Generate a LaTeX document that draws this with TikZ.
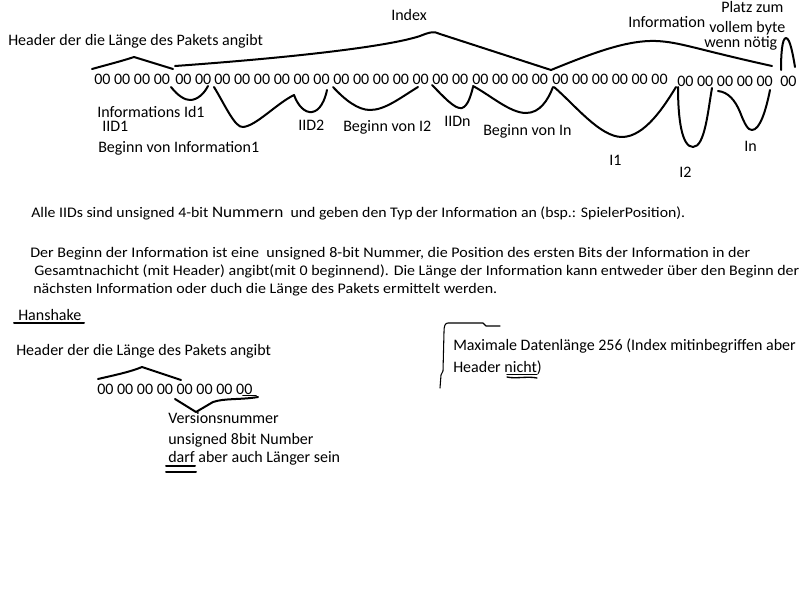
\documentclass[tikz,border=0pt]{standalone}
\usepackage{fontspec}
\setmainfont{Carlito}
\usepackage{graphicx}
\begin{document}
\begin{tikzpicture}[x=0.75pt,y=-0.75pt, line cap=round, line join=round,
  lbl/.style={anchor=base west, inner sep=0pt, font=\fontsize{12}{14}\selectfont},
  paratext/.style={anchor=base west, inner sep=0pt, font=\fontsize{11}{13}\selectfont},
  pen/.style={draw=black, line width=1.5pt},
  thinpen/.style={draw=black, line width=0.8pt}]
\useasboundingbox[fill=white] (0,0) rectangle (800,600);

% ---------- top packet ----------
\node[lbl] (hdr) at (8,45) {Header der die Länge des Pakets angibt};
\node[lbl] (idx) at (391,20) {Index};
\node[lbl] (info) at (628,27) {Information};
\node[lbl] (pl1) at (721,12) {Platz zum};
\node[lbl] (pl2) at (709,32) {vollem byte};
\node[lbl] (pl3) at (704,47) {wenn nötig};

\node[lbl] (g1) at (94,84) {00 00 00 00};
\node[lbl] (g2) at (175,84) {00 00};
\node[lbl] (g3) at (214,84) {00 00 00 00 00 00};
\node[lbl] (g4) at (333,84) {00 00 00 00 00};
\node[lbl] (g5) at (432,84) {00 00};
\node[lbl] (g6) at (472,84) {00 00 00 00};
\node[lbl] (g7) at (552,84) {00 00 00 00 00 00};
\node[lbl] (g8) at (677,86) {00 00 00 00 00};
\node[lbl] (g9) at (780,86) {00};

\node[lbl] (l1) at (97,117) {Informations Id1};
\node[lbl] (l2) at (102,131) {IID1};
\node[lbl] (l3) at (98,152) {Beginn von Information1};
\node[lbl] (l4) at (298,130) {IID2};
\node[lbl] (l5) at (343,131) {Beginn von I2};
\node[lbl] (l6) at (444,126) {IIDn};
\node[lbl] (l7) at (483,135) {Beginn von In};
\node[lbl] (l8) at (609,165) {I1};
\node[lbl] (l9) at (679,177) {I2};
\node[lbl] (l10) at (744,151) {In};

% braces above
\draw[pen] (92,69) .. controls (110,64) and (122,61) .. (134,57) -- (173,69);
\draw[pen] (175,66) .. controls (300,57) and (390,46) .. (420,36)
  .. controls (430,32) and (434,31) .. (440,34) -- (551,70);
\draw[pen] (551,70) .. controls (595,52) and (628,40) .. (656,41)
  .. controls (680,42) and (695,49) .. (772,66);
\draw[pen] (781,70) .. controls (781,55) and (782,38) .. (786,38)
  .. controls (790,38) and (793,55) .. (795,67);

% braces below
\draw[pen] (171,87) .. controls (178,96) and (185,100) .. (190,100)
  .. controls (197,100) and (204,94) .. (208,86);
\draw[pen] (214,87) .. controls (225,105) and (235,128) .. (243,127)
  .. controls (256,126) and (276,104) .. (294,95)
  .. controls (298,106) and (305,113) .. (312,112)
  .. controls (320,111) and (325,100) .. (327,90);
\draw[pen] (333,87) .. controls (345,100) and (358,110) .. (370,110)
  .. controls (385,110) and (400,98) .. (418,87);
\draw[pen] (432,85) .. controls (442,95) and (455,110) .. (462,108)
  .. controls (468,106) and (471,95) .. (473,87);
\draw[pen] (473,86) .. controls (490,95) and (510,113) .. (526,113)
  .. controls (540,113) and (548,100) .. (553,87);
\draw[pen] (554,87) .. controls (575,105) and (600,137) .. (622,137)
  .. controls (645,137) and (665,105) .. (676,87);
\draw[pen] (678,87) .. controls (678,120) and (682,147) .. (693,147)
  .. controls (705,147) and (708,110) .. (712,88);
\draw[pen] (718,91) .. controls (728,92) and (735,100) .. (740,112)
  .. controls (745,125) and (748,130) .. (752,130)
  .. controls (760,130) and (766,110) .. (770,90);

% ---------- paragraph ----------
\node[paratext] (p1) at (31,217) {\resizebox{490.5pt}{\height}{Alle IIDs sind unsigned 4-bit {\fontsize{12}{14}\selectfont Nummern}\ \ und geben den Typ der Information an (bsp.: SpielerPosition).}};
\node[paratext] (p2) at (30,257) {\resizebox{540pt}{\height}{Der Beginn der Information ist eine\ \ unsigned 8-bit Nummer, die Position des ersten Bits der Information in der}};
\node[paratext] (p3) at (34,275) {\resizebox{573.75pt}{\height}{Gesamtnachicht (mit Header) angibt(mit 0 beginnend). Die Länge der Information kann entweder über den Beginn der}};
\node[paratext] (p4) at (33,293) {\resizebox{348pt}{\height}{nächsten Information oder duch die Länge des Pakets ermittelt werden.}};

% ---------- handshake ----------
\node[lbl] (hs) at (18,320) {Hanshake};
\draw[pen] (14,323) -- (84,323);
\node[lbl] (hdr2) at (16,355) {Header der die Länge des Pakets angibt};
\node[lbl] (hex2) at (97,394) {00 00 00 00 00 00 00 00};
\draw[pen] (98,379) .. controls (115,375) and (130,372) .. (142,367) -- (181,380);
\draw[thinpen, line width=1.2pt] (243,395.5) -- (256,395.5);
\draw[pen] (175,399) -- (196,412) -- (213,402)
  .. controls (225,398) and (240,400) .. (258,397);
\node[lbl] (vn) at (168,423) {Versionsnummer};
\node[lbl] (us) at (168,444) {unsigned 8bit Number};
\node[lbl] (df) at (168,462) {darf aber auch Länger sein};
\draw[pen] (166,465.5) -- (195,465.5);
\draw[pen] (166,472) -- (196,472);

% ---------- max length note ----------
\draw[thinpen] (440,388) -- (441,375) -- (443,371) -- (444,332)
  .. controls (444,326) and (445,323) .. (448,323) -- (483,323) -- (486,326) -- (500,326);
\node[lbl] (mx1) at (453,350) {Maximale Datenlänge 256 (Index mitinbegriffen aber};
\node[lbl] (mx2) at (453,372) {Header nicht)};
\draw[thinpen, line width=1pt] (507,374.5) -- (537,374.5);
\draw[thinpen, line width=1pt] (507,377) .. controls (515,379) and (528,376) .. (537,378);
\end{tikzpicture}
\end{document}
